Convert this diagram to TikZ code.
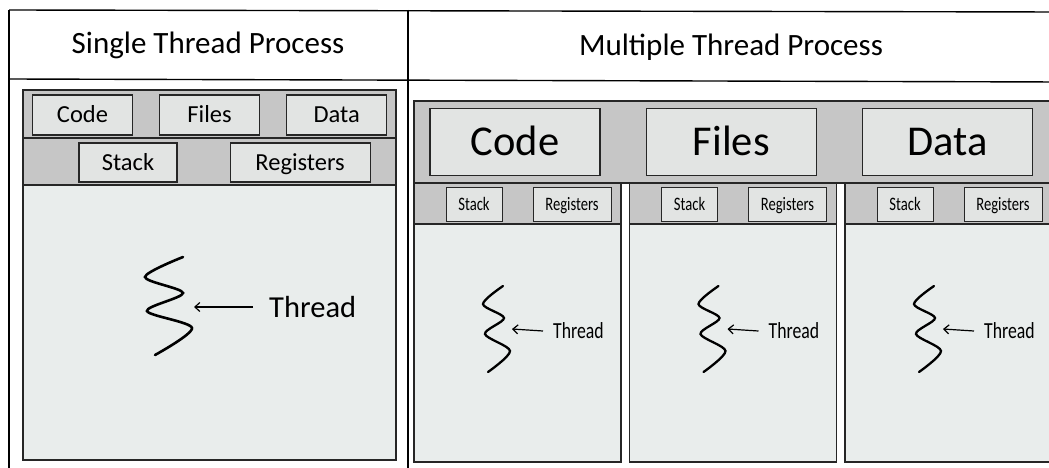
\documentclass[tikz,border=0pt]{standalone}
\usepackage{fontspec}
\setmainfont{Carlito}
\usepackage{graphicx}
\usepackage{xcolor}
\usepackage{tikz}
\usetikzlibrary{arrows.meta, positioning}
\definecolor{bandgray}{RGB}{198,198,198}
\definecolor{boxgray}{RGB}{226,228,227}
\definecolor{palegray}{RGB}{233,237,236}
\newcommand{\narrowtext}[1]{\scalebox{0.77}[1]{#1}}

\begin{document}
\begin{tikzpicture}[x=1pt, y=-1pt,
  frame/.style={draw=black, line width=1.4pt},
  panel/.style={draw=black!85, line width=1.2pt, fill=palegray},
  band/.style={draw=black!85, line width=1.2pt, fill=bandgray},
  head/.style={font=\fontsize{31}{36}\selectfont},
  sbox/.style={rectangle, draw=black!85, line width=1.1pt, fill=boxgray,
    minimum width=100pt, minimum height=40pt, inner sep=0pt,
    text height=15.8pt, text depth=0pt,
    font=\fontsize{24.5}{28}\selectfont},
  mbox/.style={rectangle, draw=black!85, line width=1.3pt, fill=boxgray,
    minimum width=170pt, minimum height=67pt, inner sep=0pt,
    text height=27.4pt, text depth=0pt,
    font=\fontsize{42.5}{48}\selectfont},
  tbox/.style={rectangle, draw=black!85, line width=1pt, fill=boxgray,
    minimum height=34pt, inner sep=0pt, text height=12.2pt, text depth=0pt,
    font=\fontsize{19}{22}\selectfont},
  sthread/.style={inner xsep=16pt, inner ysep=0pt, font=\fontsize{30.5}{34}\selectfont},
  mthread/.style={inner xsep=10pt, inner ysep=0pt, font=\fontsize{23}{26}\selectfont},
  squiggle/.style={line width=2.6pt, line cap=round},
  thrarrow/.style={-{Straight Barb[length=5pt, width=9pt]}, line width=1.2pt}
]
  \clip (0,0) rectangle (1049,468);
  \fill[white] (0,0) rectangle (1049,468);

  \draw[frame] (9,10) -- (1060,12);
  \draw[frame] (9,79) -- (1060,82);
  \draw[frame] (9,10) -- (9,480);
  \draw[frame] (408,10) -- (408,480);

  \node[head] (shead) at (208,45) {Single Thread Process};
  \node[head] (mhead) at (731,47) {Multiple Thread Process};

  \draw[panel] (23,90) rectangle (396,460);
  \draw[band] (23,90) rectangle (396,185);
  \draw[black!85, line width=1.2pt] (23,138) -- (396,138);

  \node[sbox] (scode) at (82.5,115) {Code};
  \node[sbox, right=26pt of scode] (sfiles) {Files};
  \node[sbox, right=26pt of sfiles] (sdata) {Data};
  \node[sbox, minimum width=98pt, minimum height=39pt] (sstack) at (128,162.5) {Stack};
  \node[sbox, minimum width=140pt, minimum height=39pt, right=52pt of sstack] (sregs) {Registers};

  \draw[squiggle] plot[smooth] coordinates {(183,257) (145,277) (183,293) (147,311) (192,328) (155,355)};
  \coordinate (stip) at (194,307);
  \node[sthread, anchor=west] (sthread) at (253,307) {Thread};
  \draw[thrarrow] (sthread.west) -- (stip);

  \draw[band] (414,101) rectangle (1070,183);
  \node[mbox] (mcode) at (515,142) {Code};
  \node[mbox, right=45pt of mcode] (mfiles) {Files};
  \node[mbox, right=45pt of mfiles] (mdata) {Data};

  \foreach \i in {0,1,2} {
    \begin{scope}[xshift=\i*215.5pt]
      \draw[panel] (414,183) rectangle (621,462);
      \draw[band] (414,183) rectangle (621,224);
      \node[tbox, minimum width=56pt] (stack\i) at (474,204) {\narrowtext{Stack}};
      \node[tbox, minimum width=78pt, right=30pt of stack\i] (regs\i) {\narrowtext{Registers}};
      \draw[squiggle, line width=2.3pt] plot[smooth] coordinates {(503,286) (483,304) (504,318) (485,334) (510,351) (488,372)};
      \coordinate (tip\i) at (512,329);
      \node[mthread, anchor=west] (thread\i) at (543,331) {\narrowtext{Thread}};
      \draw[thrarrow] (thread\i.west) -- (tip\i);
    \end{scope}
  }
\end{tikzpicture}
\end{document}
